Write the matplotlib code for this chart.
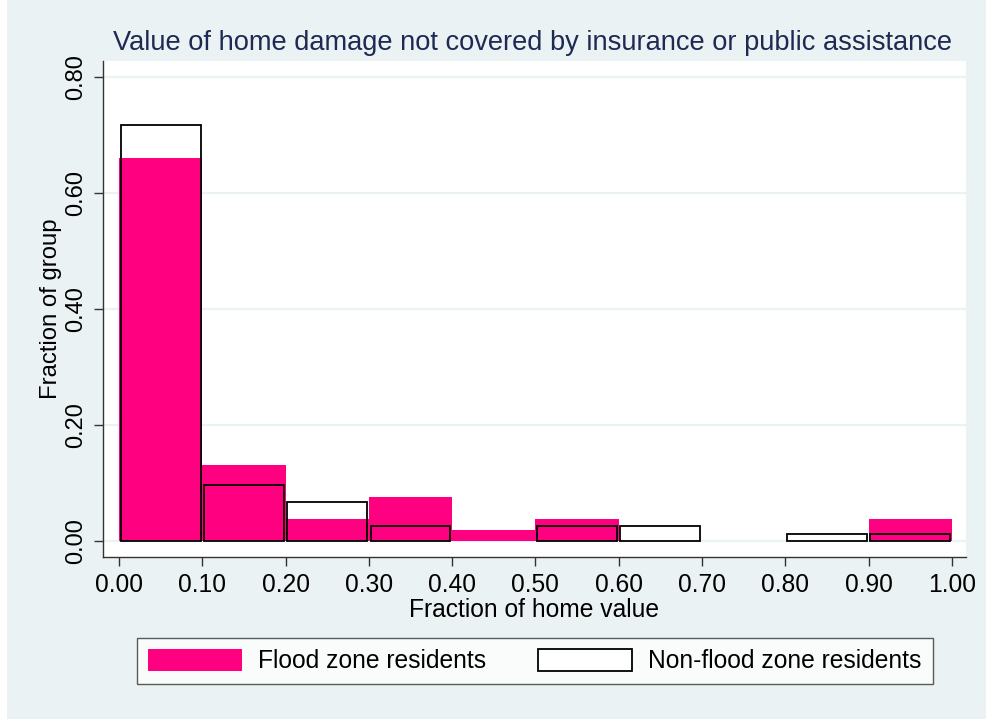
import matplotlib
matplotlib.use("Agg")
import matplotlib.pyplot as plt
from matplotlib.patches import Rectangle, Patch
import numpy as np

bin_left = [0.0, 0.1, 0.2, 0.3, 0.4, 0.5, 0.6, 0.7, 0.8, 0.9]
flood = [0.660, 0.131, 0.038, 0.076, 0.0185, 0.0375, 0.0, 0.0, 0.0, 0.0375]
nonflood = [0.717, 0.096, 0.067, 0.0255, 0.0, 0.0255, 0.0255, 0.0, 0.0115, 0.0115]
xticks = [0.0, 0.1, 0.2, 0.3, 0.4, 0.5, 0.6, 0.7, 0.8, 0.9, 1.0]
yticks = [0.0, 0.2, 0.4, 0.6, 0.8]
title = "Value of home damage not covered by insurance or public assistance"
xlabel = "Fraction of home value"
ylabel = "Fraction of group"
labels = ["Flood zone residents", "Non-flood zone residents"]

BG = "#EAF2F3"
PINK = "#FF0080"
plt.rcParams['font.family'] = ['Liberation Sans', 'DejaVu Sans']
FS = 17.7

fig = plt.figure(figsize=(9.87, 7.19), dpi=100, facecolor=BG)
fig.patches.append(Rectangle((0, 0), 7/987, 1, transform=fig.transFigure,
                             facecolor='white', edgecolor='none', zorder=-1))
ax = fig.add_axes([102.7/987, 1-556.7/719, (966-102.7)/987, (556.7-61)/719])
ax.set_facecolor('white')

centers = np.array(bin_left) + 0.05
fl = [v if v > 0 else np.nan for v in flood]
nf = [v if v > 0 else np.nan for v in nonflood]
ax.bar(centers, fl, width=0.1, color=PINK, edgecolor='none', zorder=2)
ax.bar(centers, nf, width=0.096, facecolor='none', edgecolor='black',
       linewidth=1.3, zorder=3)

ax.set_xlim(-0.0196, 1.017)
ax.set_ylim(-0.0276, 0.827)
ax.set_xticks(xticks)
ax.set_xticklabels([f"{v:.2f}" for v in xticks], fontsize=FS)
ax.set_yticks(yticks)
ax.set_yticklabels([f"{v:.2f}" for v in yticks], fontsize=17, rotation=90, va='center')
for y in yticks:
    ax.axhline(y, color=BG, linewidth=1.6, zorder=1)
for s in ['top', 'right']:
    ax.spines[s].set_visible(False)
for s in ['left', 'bottom']:
    ax.spines[s].set_color('#333333')
    ax.spines[s].set_linewidth(1.0)
ax.tick_params(axis='both', direction='out', length=6.5, width=1.0, color='#333333', pad=5)

ax.set_xlabel(xlabel, fontsize=FS, labelpad=1)
ax.set_ylabel(ylabel, fontsize=17.2, labelpad=2)
fig.text(533/987, 1-43/719, title, ha='center', va='center', fontsize=19.6, color='#1E2A52')

handles = [Patch(facecolor=PINK, edgecolor='none'),
           Patch(facecolor='white', edgecolor='black', linewidth=1.3)]
em = FS * 100 / 72
leg = fig.legend(handles, labels, loc='center', bbox_to_anchor=(534.8/987, 1-661/719),
                 ncol=2, frameon=True, fancybox=False, fontsize=FS,
                 handlelength=94/em, handleheight=24/em, columnspacing=52/em,
                 handletextpad=16/em, borderpad=0.45, borderaxespad=0)
leg.get_frame().set_edgecolor('#333333')
leg.get_frame().set_linewidth(1.0)
leg.get_frame().set_facecolor('white')

fig.savefig('out.png', dpi=100, facecolor=BG)
